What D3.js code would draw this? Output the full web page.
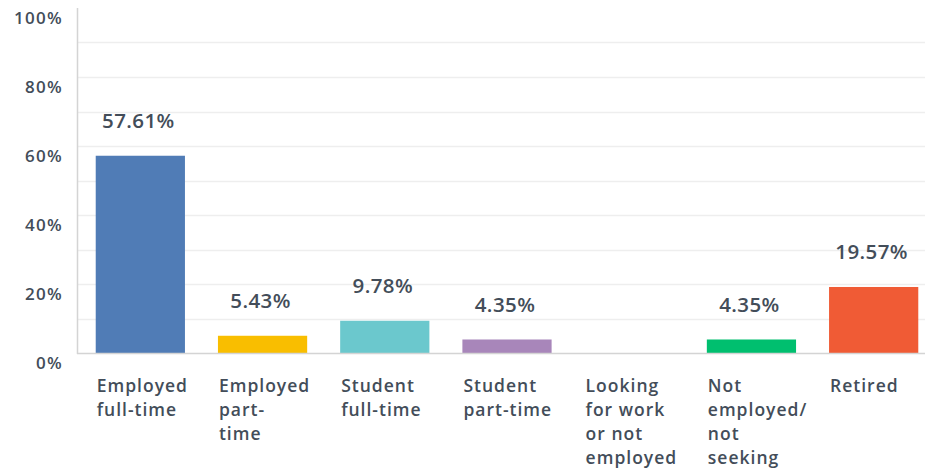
<!DOCTYPE html>
<html>
<head>
<meta charset="utf-8">
<script src="https://cdn.jsdelivr.net/npm/d3@7"></script>
<style>
  html, body { margin: 0; padding: 0; background: #fff; }
  svg { display: block; }
  text { font-family: "Open Sans", "Noto Sans", sans-serif; fill: #434d59; }
</style>
</head>
<body>
<svg id="chart" width="925" height="472"></svg>
<script>
// Employment status of respondents (share of answers, %)
const categories = [
  "Employed full-time",
  "Employed part-time",
  "Student full-time",
  "Student part-time",
  "Looking for work or not employed",
  "Not employed/ not seeking",
  "Retired"
];
// Axis labels are broken over lines exactly as printed
const categoryLines = [
  ["Employed", "full-time"],
  ["Employed", "part-", "time"],
  ["Student", "full-time"],
  ["Student", "part-time"],
  ["Looking", "for work", "or not", "employed"],
  ["Not", "employed/", "not", "seeking"],
  ["Retired"]
];
const values = [57.61, 5.43, 9.78, 4.35, 0, 4.35, 19.57];
const colors = ["#507cb6", "#f9be00", "#6bc8cd", "#a886ba", "#9fa5aa", "#00bf6f", "#f05b35"];
const yTicks = [0, 20, 40, 60, 80, 100];
const gridTicks = [10, 20, 30, 40, 50, 60, 70, 80, 90];

const svg = d3.select("#chart");
const plot = { left: 78, top: 8, bottom: 353, right: 936 };

const x = d3.scaleBand()
  .domain(categories)
  .range([plot.left, plot.right])
  .paddingInner(0.27)
  .paddingOuter(0.145);

const y = d3.scaleLinear().domain([0, 100]).range([plot.bottom, plot.top]);

// Horizontal gridlines every 10%
svg.append("g")
  .selectAll("line")
  .data(gridTicks)
  .join("line")
  .attr("x1", plot.left)
  .attr("x2", 925)
  .attr("y1", d => Math.round(y(d)) + 0.5)
  .attr("y2", d => Math.round(y(d)) + 0.5)
  .attr("stroke", "#eeeeee")
  .attr("stroke-width", 1.5);

// Bars
svg.append("g")
  .selectAll("rect")
  .data(values)
  .join("rect")
  .attr("x", (d, i) => x(categories[i]))
  .attr("width", x.bandwidth())
  .attr("y", d => y(d) + 1.5)
  .attr("height", d => Math.max(0, plot.bottom - y(d) - 1.5))
  .attr("fill", (d, i) => colors[i]);

// Axis lines
svg.append("line")
  .attr("x1", plot.left - 0.5).attr("x2", plot.left - 0.5)
  .attr("y1", plot.top).attr("y2", plot.bottom + 1)
  .attr("stroke", "#d4d4d4").attr("stroke-width", 1.5);
svg.append("line")
  .attr("x1", plot.left - 1).attr("x2", 925)
  .attr("y1", plot.bottom + 0.5).attr("y2", plot.bottom + 0.5)
  .attr("stroke", "#d4d4d4").attr("stroke-width", 1.5);

// Y tick labels
svg.append("g")
  .selectAll("text")
  .data(yTicks)
  .join("text")
  .attr("x", 63)
  .attr("y", d => y(d) + 15.5)
  .attr("text-anchor", "end")
  .attr("font-size", 17)
  .attr("font-weight", 600)
  .attr("letter-spacing", 1.3)
  .text(d => d + "%");

// Value labels above bars
svg.append("g")
  .selectAll("text")
  .data(values.map((v, i) => ({ v, i })).filter(d => d.v > 0))
  .join("text")
  .attr("x", d => x(categories[d.i]) + x.bandwidth() / 2 - 2)
  .attr("y", d => y(d.v) - 26)
  .attr("text-anchor", "middle")
  .attr("font-size", 20.5)
  .attr("font-weight", 600)
  .attr("letter-spacing", 0.4)
  .text(d => d.v.toFixed(2) + "%");

// Category labels under bars
const cat = svg.append("g")
  .selectAll("text")
  .data(categoryLines)
  .join("text")
  .attr("x", (d, i) => x(categories[i]) + 1)
  .attr("y", 392)
  .attr("font-size", 17.5)
  .attr("font-weight", 600)
  .attr("letter-spacing", 1);
cat.selectAll("tspan")
  .data((d, i) => d.map(line => ({ line, i })))
  .join("tspan")
  .attr("x", d => x(categories[d.i]) + 1)
  .attr("dy", (d, j) => j === 0 ? 0 : 24)
  .text(d => d.line);
</script>
</body>
</html>
